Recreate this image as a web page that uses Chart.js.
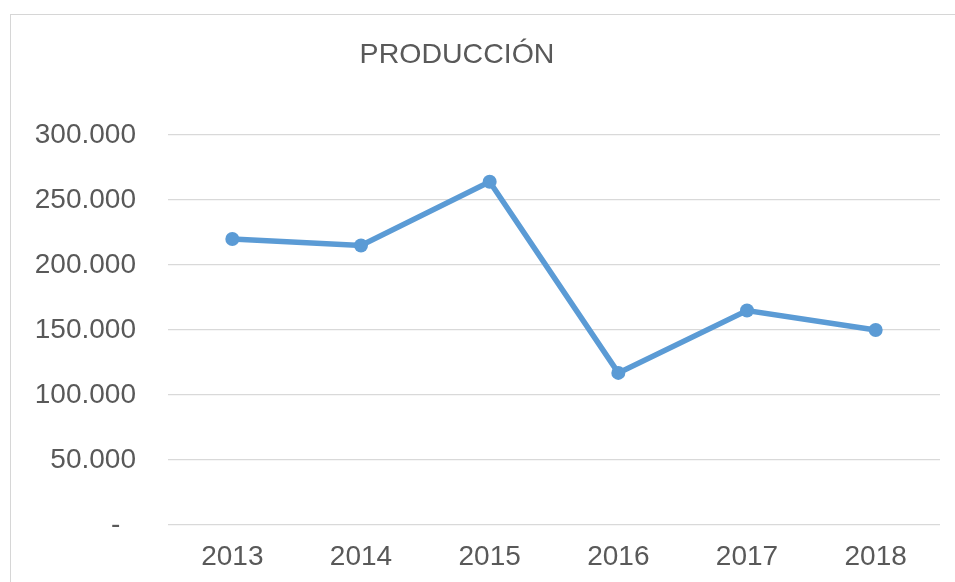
<!DOCTYPE html>
<html>
<head>
<meta charset="utf-8">
<script src="https://cdn.jsdelivr.net/npm/chart.js@4"></script>
<style>
  html, body { margin: 0; padding: 0; background: #fff; overflow: hidden; }
  #wrap { position: relative; width: 955px; height: 582px; }
  #frame { position: absolute; left: 10px; top: 14px; width: 1000px; height: 700px; border: 1px solid #d6d6d6; box-sizing: border-box; }
  #c { position: absolute; left: 0; top: 0; }
</style>
</head>
<body>
<div id="wrap">
  <div id="frame"></div>
  <canvas id="c" width="955" height="582"></canvas>
</div>
<script>
const titleText = "PRODUCCIÓN";
const categories = ["2013", "2014", "2015", "2016", "2017", "2018"];
const produccion = [220000, 215000, 264000, 117000, 165000, 150000];
const yTicks = [0, 50000, 100000, 150000, 200000, 250000, 300000];

const textColor = "#595959";
const fontFamily = "'Liberation Sans', Arial, sans-serif";

function fmt(v) {
  if (v === 0) return "-  ";
  return Math.round(v).toString().replace(/\B(?=(\d{3})+(?!\d))/g, ".");
}

const titlePlugin = {
  id: "fixedTitle",
  afterDraw(chart) {
    const ctx = chart.ctx;
    ctx.save();
    ctx.font = "28.5px " + fontFamily;
    ctx.fillStyle = textColor;
    ctx.textAlign = "center";
    ctx.textBaseline = "alphabetic";
    ctx.fillText(titleText, 457, 63);
    ctx.restore();
  }
};

new Chart(document.getElementById("c"), {
  type: "line",
  data: {
    labels: categories,
    datasets: [{
      label: titleText,
      data: produccion,
      borderColor: "#5b9bd5",
      backgroundColor: "#5b9bd5",
      borderWidth: 5.5,
      pointRadius: 7,
      pointBorderWidth: 0,
      pointBackgroundColor: "#5b9bd5",
      tension: 0,
      fill: false
    }]
  },
  options: {
    responsive: false,
    animation: false,
    events: [],
    layout: { padding: { left: 0, right: 15, top: 135, bottom: 0 } },
    plugins: {
      legend: { display: false },
      title: { display: false },
      tooltip: { enabled: false }
    },
    scales: {
      x: {
        type: "category",
        offset: true,
        grid: { display: false, drawTicks: false },
        border: { display: false },
        ticks: {
          color: textColor,
          font: { family: fontFamily, size: 28 },
          padding: 15,
          maxRotation: 0
        },
        afterFit(scale) { scale.height = 57; }
      },
      y: {
        min: 0,
        max: 300000,
        afterBuildTicks(scale) { scale.ticks = yTicks.map(v => ({ value: v })); },
        grid: { color: "#d9d9d9", lineWidth: 1.3, drawTicks: false },
        border: { display: false },
        ticks: {
          color: textColor,
          font: { family: fontFamily, size: 28 },
          padding: 32,
          callback: (v) => fmt(v)
        },
        afterFit(scale) { scale.width = 168; }
      }
    }
  },
  plugins: [titlePlugin]
});
</script>
</body>
</html>
